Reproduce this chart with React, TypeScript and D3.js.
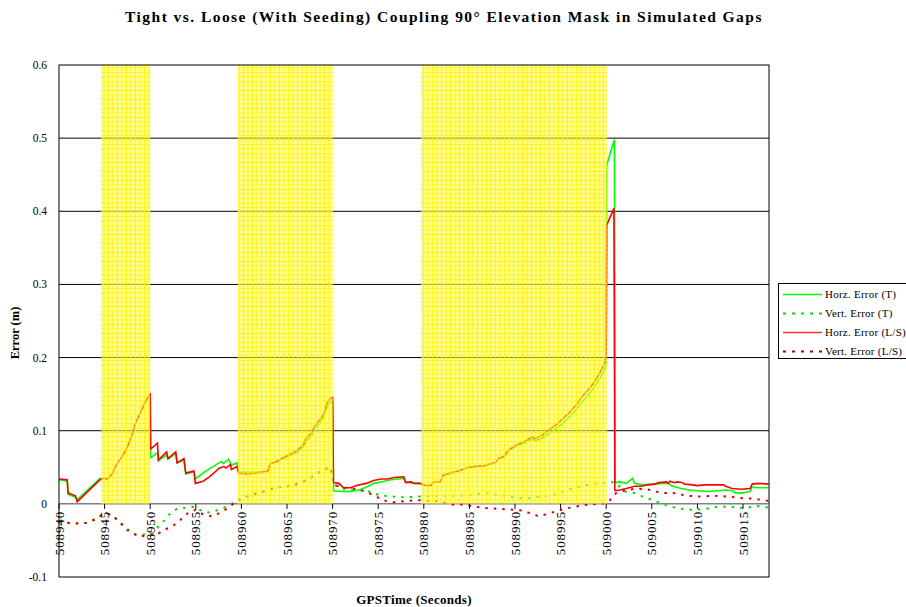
import React from "react";
import * as d3 from "d3";

const TITLE = "Tight vs. Loose (With Seeding) Coupling 90° Elevation Mask in Simulated Gaps";
const X_TITLE = "GPSTime (Seconds)";
const Y_TITLE = "Error (m)";

const xTicks = [508940, 508945, 508950, 508955, 508960, 508965, 508970, 508975, 508980, 508985, 508990, 508995, 509000, 509005, 509010, 509015];
const yTicks = [-0.1, 0, 0.1, 0.2, 0.3, 0.4, 0.5, 0.6];
const gridValues = [0.1, 0.2, 0.3, 0.4, 0.5];

// simulated GPS outage intervals [start, end]
const gaps: [number, number][] = [
  [508944.6, 508950.0],
  [508959.6, 508970.05],
  [508979.7, 509000.1],
];

const horzT: [number, number][] = [
  [508940, 0.033], [508940.9, 0.031], [508941.0, 0.013], [508941.8, 0.009], [508942.0, 0.006],
  [508944.5, 0.035], [508944.8, 0.035], [508945.3, 0.034], [508945.8, 0.040], [508946.4, 0.056],
  [508946.9, 0.064], [508947.5, 0.078], [508948.0, 0.094], [508948.4, 0.111], [508948.9, 0.124],
  [508949.3, 0.135], [508949.9, 0.149], [508950.0, 0.150],
  [508950.05, 0.063], [508950.8, 0.070], [508950.9, 0.059], [508951.8, 0.067], [508951.95, 0.061],
  [508952.8, 0.069], [508952.95, 0.056], [508953.7, 0.060], [508953.9, 0.041], [508954.8, 0.044],
  [508954.95, 0.034], [508956.0, 0.044], [508956.9, 0.051], [508957.8, 0.058], [508958.0, 0.055],
  [508958.6, 0.061], [508958.9, 0.053], [508959.5, 0.056], [508959.7, 0.044],
  [508960.5, 0.043], [508961.6, 0.043], [508962.9, 0.045], [508963.2, 0.055], [508964.0, 0.058],
  [508964.4, 0.061], [508965.5, 0.067], [508966.2, 0.071], [508966.8, 0.078], [508967.1, 0.086],
  [508967.7, 0.093], [508968.0, 0.101], [508968.4, 0.108], [508969.0, 0.118], [508969.3, 0.130],
  [508969.7, 0.139], [508970.0, 0.141],
  [508970.1, 0.018], [508971.0, 0.017], [508972.0, 0.017], [508972.9, 0.019], [508973.9, 0.024],
  [508974.5, 0.028], [508975.3, 0.030], [508976.4, 0.033], [508977.8, 0.035], [508978.0, 0.030],
  [508979.0, 0.028], [508979.6, 0.028],
  [508980.1, 0.025], [508980.8, 0.025], [508981.1, 0.030], [508981.8, 0.030], [508982.1, 0.039],
  [508982.9, 0.042], [508983.8, 0.045], [508984.7, 0.049], [508985.6, 0.051], [508986.7, 0.052],
  [508987.1, 0.054], [508987.8, 0.056], [508988.2, 0.062], [508988.8, 0.064], [508989.3, 0.073],
  [508990.2, 0.079], [508991.0, 0.083], [508991.9, 0.089], [508992.2, 0.086], [508993.0, 0.090],
  [508993.7, 0.096], [508994.5, 0.103], [508995.2, 0.110], [508995.9, 0.118], [508996.7, 0.129],
  [508997.4, 0.140], [508998.2, 0.151], [508998.7, 0.160], [508999.3, 0.172], [508999.8, 0.183],
  [509000.0, 0.190],
  [509000.05, 0.463], [509000.9, 0.498],
  [509000.97, 0.029], [509001.5, 0.030], [509002.2, 0.028], [509002.9, 0.035], [509003.1, 0.028],
  [509004.0, 0.026], [509005.0, 0.027], [509006.2, 0.028], [509006.9, 0.028], [509007.1, 0.025],
  [509008.2, 0.021], [509009.1, 0.019], [509010.0, 0.018], [509011.1, 0.017], [509012.2, 0.018],
  [509013.2, 0.019], [509013.9, 0.018], [509014.1, 0.015], [509015.0, 0.015], [509015.8, 0.017],
  [509016.0, 0.023], [509016.7, 0.022], [509017.8, 0.022],
];

const vertT: [number, number][] = [
  [508940, -0.024], [508941.6, -0.027], [508943.0, -0.026], [508944.2, -0.020], [508944.7, -0.015],
  [508945.7, -0.014], [508947.1, -0.031], [508948.4, -0.042], [508949.5, -0.042], [508950.3, -0.040],
  [508950.9, -0.031], [508951.6, -0.022], [508952.2, -0.013], [508952.9, -0.007], [508954.0, -0.005],
  [508954.7, -0.004], [508955.4, -0.008], [508956.2, -0.012], [508956.9, -0.011], [508957.8, -0.006],
  [508958.4, -0.004], [508959.1, 0.002], [508959.9, 0.005], [508960.9, 0.012], [508962.0, 0.015],
  [508963.1, 0.020], [508964.2, 0.023], [508965.3, 0.025], [508966.4, 0.029], [508967.3, 0.034],
  [508968.2, 0.041], [508969.1, 0.048], [508969.8, 0.051], [508970.1, 0.026], [508971.2, 0.021],
  [508972.5, 0.019], [508973.7, 0.018], [508975.1, 0.012], [508976.5, 0.010], [508978.0, 0.009],
  [508979.5, 0.010], [508981.8, 0.011], [508983.2, 0.011], [508985.1, 0.012], [508986.7, 0.015],
  [508987.5, 0.013], [508989.1, 0.011], [508990.2, 0.008], [508991.3, 0.007], [508992.8, 0.010],
  [508994.3, 0.013], [508995.8, 0.019], [508997.2, 0.024], [508998.5, 0.027], [508999.9, 0.029],
  [509000.9, 0.030], [509002.0, 0.017], [509003.1, 0.015], [509004.0, 0.010], [509005.1, 0.005],
  [509006.4, -0.001], [509007.8, -0.006], [509009.3, -0.008], [509010.8, -0.007], [509012.2, -0.004],
  [509013.7, -0.004], [509015.1, -0.006], [509016.6, -0.003], [509017.8, -0.005],
];

const horzLS: [number, number][] = [
  [508940, 0.034], [508940.9, 0.033], [508941.0, 0.015], [508941.8, 0.011], [508942.0, 0.003],
  [508944.5, 0.033], [508944.8, 0.035], [508945.3, 0.034], [508945.8, 0.040], [508946.4, 0.056],
  [508946.9, 0.064], [508947.5, 0.078], [508948.0, 0.094], [508948.4, 0.111], [508948.9, 0.124],
  [508949.3, 0.135], [508949.9, 0.149], [508950.0, 0.150],
  [508950.05, 0.075], [508950.8, 0.083], [508950.9, 0.060], [508951.8, 0.071], [508951.95, 0.062],
  [508952.8, 0.071], [508952.95, 0.056], [508953.7, 0.062], [508953.9, 0.042], [508954.8, 0.045],
  [508954.95, 0.028], [508955.8, 0.031], [508956.5, 0.037], [508957.6, 0.049], [508958.1, 0.051],
  [508958.3, 0.049], [508958.8, 0.054], [508958.9, 0.047], [508959.5, 0.051], [508959.7, 0.042],
  [508960.5, 0.041], [508961.6, 0.042], [508962.9, 0.045], [508963.2, 0.055], [508964.0, 0.059],
  [508964.4, 0.062], [508965.5, 0.069], [508966.2, 0.074], [508966.8, 0.081], [508967.1, 0.090],
  [508967.7, 0.097], [508968.0, 0.106], [508968.4, 0.112], [508969.0, 0.122], [508969.3, 0.135],
  [508969.7, 0.144], [508970.0, 0.146],
  [508970.1, 0.029], [508970.7, 0.028], [508971.2, 0.022], [508972.0, 0.022], [508972.6, 0.025],
  [508973.7, 0.028], [508974.5, 0.032], [508975.3, 0.034], [508976.0, 0.034], [508976.7, 0.036],
  [508977.8, 0.037], [508978.0, 0.029], [508978.6, 0.030], [508979.0, 0.028], [508979.6, 0.028],
  [508980.1, 0.025], [508980.8, 0.025], [508981.1, 0.030], [508981.8, 0.030], [508982.1, 0.039],
  [508982.9, 0.042], [508983.8, 0.045], [508984.7, 0.049], [508985.6, 0.051], [508986.7, 0.052],
  [508987.1, 0.054], [508987.8, 0.056], [508988.2, 0.062], [508988.8, 0.065], [508989.3, 0.074],
  [508990.2, 0.081], [508991.0, 0.085], [508991.9, 0.092], [508992.2, 0.089], [508993.0, 0.094],
  [508993.7, 0.101], [508994.5, 0.108], [508995.2, 0.116], [508995.9, 0.124], [508996.7, 0.135],
  [508997.4, 0.147], [508998.2, 0.158], [508998.7, 0.167], [508999.3, 0.179], [508999.8, 0.192],
  [509000.0, 0.200],
  [509000.05, 0.381], [509000.85, 0.404],
  [509000.95, 0.018], [509001.5, 0.019], [509002.2, 0.021], [509003.1, 0.024], [509003.8, 0.024],
  [509004.6, 0.026], [509005.3, 0.027], [509005.8, 0.029], [509006.6, 0.030], [509006.8, 0.028],
  [509007.0, 0.031], [509007.5, 0.029], [509007.8, 0.030], [509008.4, 0.029], [509008.6, 0.027],
  [509009.5, 0.026], [509010.0, 0.025], [509010.8, 0.026], [509011.8, 0.026], [509012.9, 0.026],
  [509013.1, 0.024], [509013.8, 0.021], [509014.8, 0.020], [509015.8, 0.021], [509016.0, 0.027],
  [509016.7, 0.028], [509017.8, 0.027],
];

const vertLS: [number, number][] = [
  [508940, -0.024], [508941.6, -0.027], [508943.0, -0.026], [508944.2, -0.020], [508944.7, -0.015],
  [508945.7, -0.014], [508946.6, -0.024], [508947.5, -0.036], [508948.8, -0.045], [508950.0, -0.042],
  [508950.7, -0.042], [508951.5, -0.036], [508952.6, -0.029], [508953.3, -0.022], [508954.1, -0.013],
  [508955.0, -0.008], [508955.9, -0.015], [508956.8, -0.017], [508957.5, -0.013], [508958.5, -0.006],
  [508959.4, 0.003], [508960.0, 0.008], [508960.9, 0.012], [508962.0, 0.015], [508963.1, 0.020],
  [508964.2, 0.023], [508965.3, 0.024], [508966.4, 0.028], [508967.3, 0.033], [508968.2, 0.040],
  [508969.1, 0.047], [508969.8, 0.049], [508970.1, 0.026], [508971.5, 0.022], [508972.5, 0.020],
  [508973.4, 0.018], [508974.8, 0.010], [508975.5, 0.005], [508976.6, 0.002], [508978.0, 0.004],
  [508979.5, 0.005], [508980.2, 0.004], [508981.6, 0.004], [508983.0, -0.001], [508984.5, -0.001],
  [508985.6, -0.004], [508987.0, -0.006], [508988.5, -0.007], [508989.9, -0.008], [508990.8, -0.009],
  [508991.7, -0.013], [508992.6, -0.017], [508993.5, -0.014], [508994.3, -0.011], [508995.4, -0.007],
  [508996.5, -0.004], [508998.0, -0.001], [508999.1, 0.0], [509000.0, 0.001], [509000.4, 0.005],
  [509001.1, 0.015], [509002.2, 0.019], [509003.5, 0.021], [509004.9, 0.019], [509006.0, 0.015],
  [509007.3, 0.015], [509008.9, 0.011], [509010.4, 0.010], [509011.8, 0.011], [509013.3, 0.010],
  [509014.7, 0.008], [509016.2, 0.007], [509017.8, 0.004],
];

const seriesNames = ["Horz. Error (T)", "Vert. Error (T)", "Horz. Error (L/S)", "Vert. Error (L/S)"];
const seriesData = [horzT, vertT, horzLS, vertLS];
const seriesColors = ["#00ff00", "#00e000", "#ff0000", "#dd0000"];
const legendColors = ["#00ff00", "#00e000", "#ff3030", "#b00000"];
const seriesDashed = [false, true, false, true];

const W = 906;
const H = 607;
const M = { left: 59, right: 769, top: 65, bottom: 577 };
const FONT = "'Liberation Serif', 'Times New Roman', 'DejaVu Serif', serif";

export default function App() {
  const x = d3.scaleLinear().domain([508940, 509017.85]).range([M.left, M.right]);
  const y = d3.scaleLinear().domain([-0.1, 0.6]).range([M.bottom, M.top]);
  const line = d3
    .line<[number, number]>()
    .x((d) => x(d[0]))
    .y((d) => y(d[1]));

  const order = [1, 3, 0, 2];

  return (
    <svg
      width={W}
      height={H}
      style={{ position: "absolute", left: 0, top: 0, background: "#fff" }}
      fontFamily={FONT}
    >
      <defs>
        <pattern id="hatch" width={4.5} height={4.5} patternUnits="userSpaceOnUse">
          <rect width={4.5} height={4.5} fill="#ffff30" fillOpacity={0.55} />
          <path d="M0,0.5H4.5M0.5,0V4.5" stroke="#ffee00" strokeOpacity={0.8} strokeWidth={1} />
        </pattern>
        <clipPath id="plotclip">
          <rect x={M.left} y={M.top} width={M.right - M.left} height={M.bottom - M.top} />
        </clipPath>
      </defs>
      <rect x={0} y={0} width={W} height={H} fill="#fff" />

      <text x={444} y={22} textAnchor="middle" fontWeight="bold" fontSize={15.5} letterSpacing={1.45}>
        {TITLE}
      </text>

      {/* grid */}
      {gridValues.map((v) => (
        <line key={v} x1={M.left} x2={M.right} y1={y(v)} y2={y(v)} stroke="#000" strokeWidth={1} />
      ))}
      <line x1={M.left} x2={M.right} y1={y(0)} y2={y(0)} stroke="#808080" strokeWidth={1.5} />

      {/* series */}
      <g clipPath="url(#plotclip)">
        {order.map((i) => (
          <path
            key={i}
            d={line(seriesData[i]) || ""}
            fill="none"
            stroke={seriesColors[i]}
            strokeWidth={seriesDashed[i] ? 2 : 1.6}
            strokeDasharray={seriesDashed[i] ? "2.5,6" : undefined}
          />
        ))}
      </g>

      {/* gap shading */}
      {gaps.map(([a, b], i) => (
        <rect key={i} x={x(a)} y={y(0.6)} width={x(b) - x(a)} height={y(0) - y(0.6)} fill="url(#hatch)" />
      ))}

      {/* plot border */}
      <rect x={M.left} y={M.top} width={M.right - M.left} height={M.bottom - M.top} fill="none" stroke="#000" strokeWidth={1} />

      {/* x ticks */}
      {xTicks.map((t) => (
        <g key={t}>
          <line x1={x(t)} x2={x(t)} y1={y(0)} y2={y(0) + 5} stroke="#000" />
          <text
            transform={`translate(${x(t) + 4.5},${y(0) + 7}) rotate(-90)`}
            textAnchor="end"
            fontSize={13}
            letterSpacing={0.9}
          >
            {t}
          </text>
        </g>
      ))}

      {/* y ticks */}
      {yTicks.map((v) => (
        <text key={v} x={M.left - 12} y={y(v) + 4} textAnchor="end" fontSize={11.5}>
          {d3.format(".1~f")(v).replace("−", "-")}
        </text>
      ))}

      <text x={414} y={604} textAnchor="middle" fontWeight="bold" fontSize={13} letterSpacing={0.3}>
        {X_TITLE}
      </text>
      <text transform={`translate(19,333) rotate(-90)`} textAnchor="middle" fontWeight="bold" fontSize={12.5}>
        {Y_TITLE}
      </text>

      {/* legend */}
      <g>
        <rect x={778.5} y={283.5} width={140} height={75} fill="#fff" stroke="#000" strokeWidth={1} />
        {seriesNames.map((n, i) => {
          const yy = 294.5 + i * 19;
          return (
            <g key={n}>
              <line
                x1={783}
                x2={822}
                y1={yy}
                y2={yy}
                stroke={legendColors[i]}
                strokeWidth={seriesDashed[i] ? 2 : 1.5}
                strokeDasharray={seriesDashed[i] ? "3,6" : undefined}
              />
              <text x={825} y={yy + 3.5} fontSize={11} letterSpacing={0.25}>
                {n}
              </text>
            </g>
          );
        })}
      </g>
    </svg>
  );
}
